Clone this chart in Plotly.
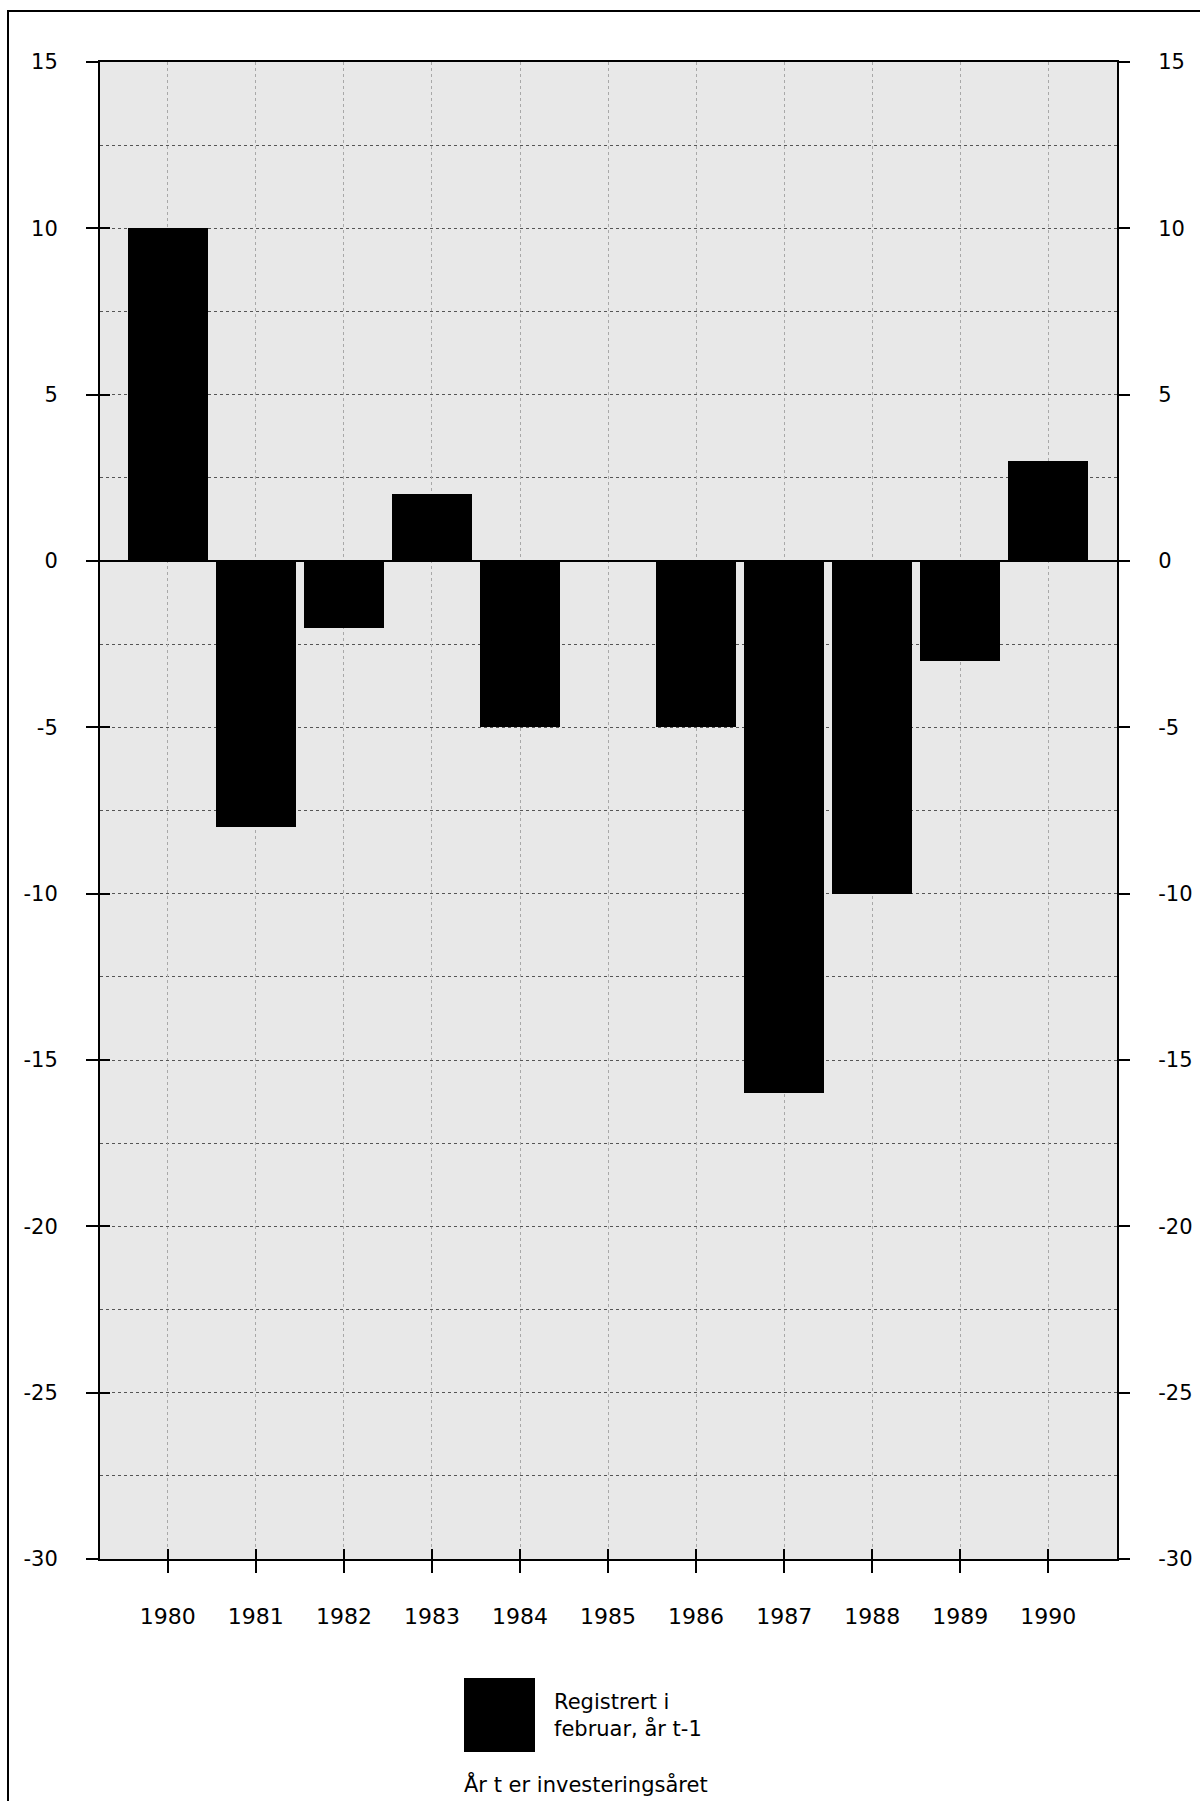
import plotly.graph_objects as go

years = ["1980", "1981", "1982", "1983", "1984", "1985", "1986", "1987", "1988", "1989", "1990"]
values = [10, -8, -2, 2, -5, 0, -5, -16, -10, -3, 3]
series_name = "Registrert i<br>februar, år t-1"
footnote = "År t er investeringsåret"
y_ticks = [15, 10, 5, 0, -5, -10, -15, -20, -25, -30]
y_ticktext = ["15", "10", "5", "0", "-5", "-10", "-15", "-20", "-25", "-30"]

FONT = "DejaVu Sans"
L, R, T, B = 100, 83, 62, 242
W, H = 1200, 1801
PW, PH = W - L - R, H - T - B


def px(x):
    return (x - L) / PW


def py(y):
    return (H - B - y) / PH


fig = go.Figure()
fig.add_trace(go.Bar(
    x=years, y=values, name=series_name.replace("<br>", " "),
    marker=dict(color="black", line=dict(width=0)), width=0.91,
    showlegend=False,
))

yr = [-30, 15]
xr = [-0.77, 10.78]

fig.update_layout(
    width=W, height=H,
    margin=dict(l=L, r=R, t=T, b=B, autoexpand=False),
    paper_bgcolor="white",
    plot_bgcolor="#e8e8e8",
    font=dict(family=FONT, color="black", size=20),
    bargap=0,
    xaxis=dict(
        type="category", range=xr, showline=True, linecolor="black", linewidth=2,
        mirror=True, ticks="outside", ticklen=12, tickwidth=1.5, tickcolor="black",
        showgrid=True, gridcolor="#a8a8a8", griddash="dot", gridwidth=1,
        tickfont=dict(size=22, family=FONT), ticklabelstandoff=25,
        zeroline=False,
    ),
    xaxis2=dict(
        overlaying="x", anchor="y", side="bottom", range=xr, type="linear",
        tickvals=list(range(len(years))), ticks="inside", ticklen=10, tickwidth=1.5,
        tickcolor="black", showticklabels=False, showgrid=False, zeroline=False,
        showline=False,
    ),
    yaxis=dict(
        range=yr, tickvals=y_ticks, ticktext=y_ticktext, ticks="outside", ticklen=12,
        tickwidth=1.5, tickcolor="black", showline=True, linecolor="black", linewidth=2,
        mirror=True, showgrid=True, gridcolor="#555555", griddash="dot", gridwidth=1,
        minor=dict(dtick=2.5, showgrid=True, gridcolor="#555555", griddash="dot", gridwidth=1),
        zeroline=True, zerolinecolor="black", zerolinewidth=2,
        tickfont=dict(size=21, family=FONT), ticklabelstandoff=24,
    ),
    yaxis2=dict(
        overlaying="y", side="right", anchor="x", range=yr, tickvals=y_ticks,
        ticktext=y_ticktext, ticks="outside", ticklen=12, tickwidth=1.5, tickcolor="black",
        showgrid=False, zeroline=False, showline=False,
        tickfont=dict(size=21, family=FONT), ticklabelstandoff=24,
    ),
    yaxis3=dict(
        overlaying="y", side="left", anchor="x", range=yr, tickvals=y_ticks,
        ticks="inside", ticklen=10, tickwidth=1.5, tickcolor="black",
        showticklabels=False, showgrid=False, zeroline=False, showline=False,
    ),
)

# invisible helper traces so overlay axes are drawn
fig.add_trace(go.Scatter(x=[None], y=[None], xaxis="x2", yaxis="y", showlegend=False, hoverinfo="skip"))
fig.add_trace(go.Scatter(x=[None], y=[None], xaxis="x", yaxis="y2", showlegend=False, hoverinfo="skip"))
fig.add_trace(go.Scatter(x=[None], y=[None], xaxis="x", yaxis="y3", showlegend=False, hoverinfo="skip"))

# outer frame
fig.add_shape(type="rect", xref="paper", yref="paper",
              x0=px(8), x1=px(1260), y0=py(1860), y1=py(11),
              line=dict(color="black", width=2), fillcolor="rgba(0,0,0,0)", layer="below")

# legend swatch and text
fig.add_shape(type="rect", xref="paper", yref="paper",
              x0=px(464), x1=px(535), y0=py(1752), y1=py(1678),
              line=dict(width=0), fillcolor="black")
fig.add_annotation(xref="paper", yref="paper", x=px(552), y=py(1715),
                   xanchor="left", yanchor="middle", showarrow=False, align="left",
                   text=series_name, font=dict(size=21, family=FONT))
fig.add_annotation(xref="paper", yref="paper", x=px(462), y=py(1784),
                   xanchor="left", yanchor="middle", showarrow=False, align="left",
                   text=footnote, font=dict(size=21, family=FONT))

fig.write_html("out.html", config={"displayModeBar": False},
               post_script="document.body.style.margin='0';document.body.style.overflow='hidden';")
